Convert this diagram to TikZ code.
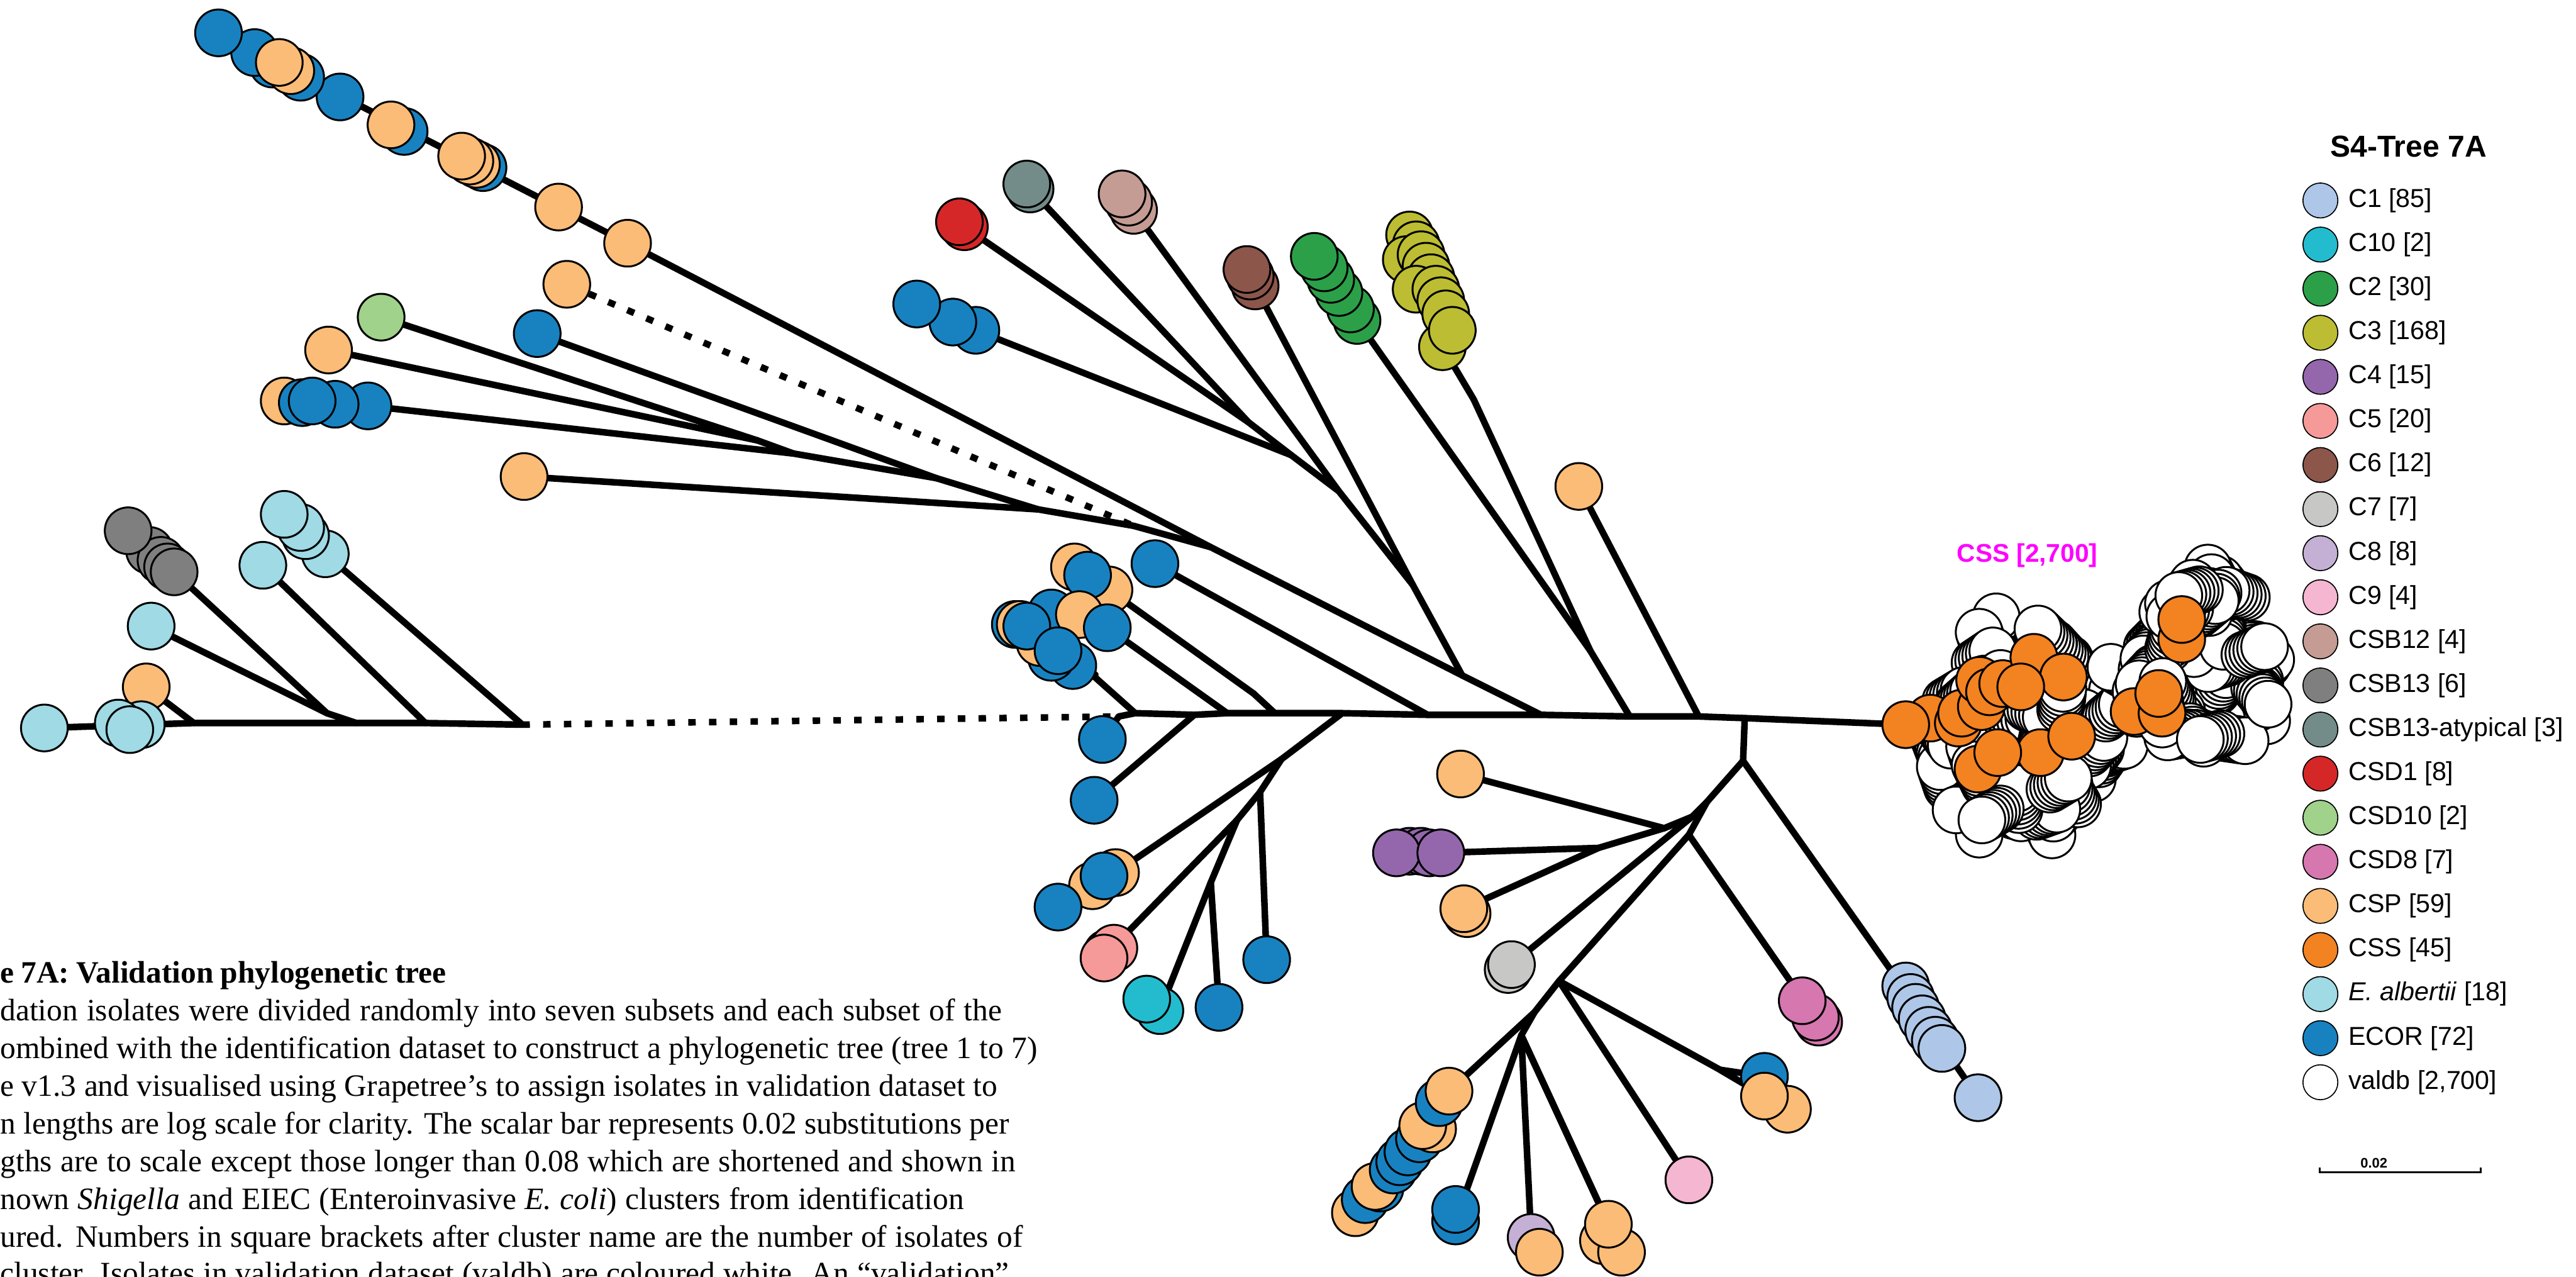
\documentclass[tikz,border=0pt]{standalone}
\usepackage{fontspec}
\setmainfont{Liberation Serif}
\setsansfont{Liberation Sans}
\usetikzlibrary{backgrounds}

% cluster colours
\definecolor{cC1}{HTML}{AEC7E8}
\definecolor{cC10}{HTML}{23BCCF}
\definecolor{cC2}{HTML}{2CA048}
\definecolor{cC3}{HTML}{BCBD32}
\definecolor{cC4}{HTML}{9467AD}
\definecolor{cC5}{HTML}{F59A99}
\definecolor{cC6}{HTML}{8C564B}
\definecolor{cC7}{HTML}{C7C7C5}
\definecolor{cC8}{HTML}{C5B0D5}
\definecolor{cC9}{HTML}{F5B6D1}
\definecolor{cCSBt}{HTML}{C49C94}
\definecolor{cCSBx}{HTML}{7F7F7F}
\definecolor{cCSBa}{HTML}{738C8A}
\definecolor{cCSDa}{HTML}{D62728}
\definecolor{cCSDt}{HTML}{A0D28C}
\definecolor{cCSDe}{HTML}{D677B0}
\definecolor{cCSP}{HTML}{FBBC77}
\definecolor{cCSS}{HTML}{F38221}
\definecolor{cEalb}{HTML}{9FDAE5}
\definecolor{cECOR}{HTML}{1882C1}
\definecolor{cval}{HTML}{FFFFFF}
\definecolor{csslab}{HTML}{FF00FF}

\newcommand{\capline}[2]{\hbox to #1cm{#2}}

\tikzset{
  leaf/.style={circle,draw=black,line width=1.1pt,fill=#1,minimum size=0.95cm,inner sep=0pt},
  br/.style={line width=3.8pt,line cap=round,line join=round},
  dotbr/.style={line width=3.8pt,dash pattern=on 4.3pt off 7.7pt},
  keydot/.style={circle,draw=black,line width=0.6pt,fill=#1,minimum size=0.71cm,inner sep=0pt},
  keytxt/.style={anchor=west,inner sep=0pt,font=\sffamily\fontsize{15}{18}\selectfont},
  captxt/.style={anchor=base west,inner sep=0pt,font=\fontsize{18}{22}\selectfont},
}

\begin{document}
\begin{tikzpicture}[x=0.033418cm,y=-0.033418cm]
\useasboundingbox (0,0) rectangle (1568,777);
\clip (0,0) rectangle (1568,777);

% inner points of the tree
\coordinate (ab1) at (118,440);
\coordinate (ab2a) at (199,434);
\coordinate (ab2) at (217,440);
\coordinate (ab3) at (259,440);
\coordinate (ab4) at (318,441);
\coordinate (m0) at (681,436);
\coordinate (m1a) at (663,409);
\coordinate (m1) at (691,434);
\coordinate (m2) at (727,435);
\coordinate (m3) at (747,434);
\coordinate (m4a) at (763,422);
\coordinate (m4) at (776,434);
\coordinate (m5) at (817,434);
\coordinate (m6) at (869,435);
\coordinate (m7) at (938,435);
\coordinate (m8) at (992,436);
\coordinate (m9) at (1034,436);
\coordinate (m10) at (1062,437);
\coordinate (n1) at (461,268);
\coordinate (n2) at (483,276);
\coordinate (n3) at (570,291);
\coordinate (n4) at (632,310);
\coordinate (n5) at (690,320);
\coordinate (n6) at (737,333);
\coordinate (j1) at (760,257);
\coordinate (j2) at (786,277);
\coordinate (j3) at (815,299);
\coordinate (j4) at (860,356);
\coordinate (j5) at (890,411);
\coordinate (c3j) at (897,243);
\coordinate (c23) at (968,396);
\coordinate (l1) at (780,462);
\coordinate (l2) at (767,482);
\coordinate (l3) at (753,499);
\coordinate (l4) at (737,537);
\coordinate (d1) at (1061,463);
\coordinate (d2) at (1039,488);
\coordinate (d3) at (1030,497);
\coordinate (d4) at (1013,504);
\coordinate (d5) at (973,516);
\coordinate (d6) at (1028,508);
\coordinate (d7) at (949,597);
\coordinate (d7a) at (1047,651);
\coordinate (d8) at (934,616);
\coordinate (d9) at (926,630);
\coordinate (c1j) at (1150,589);

% leaves
\foreach \n/\x/\y/\c in {
  csp1/89/418/cCSP, ea3/86/441/cEalb, ea2/72/440/cEalb, ea4/79/444/cEalb, ea1/27/443/cEalb,
  ea5/92/381/cEalb,
  gb2/91/335/cCSBx, gb3/98/341/cCSBx, gb4/102/345/cCSBx, gb5/106/348/cCSBx, gb1/78/323/cCSBx,
  ea6/160/344/cEalb,
  eb4/198/337/cEalb, eb3/186/326/cEalb, eb2/183/321/cEalb, eb1/173/313/cEalb,
  tc1/382/148/cCSP, tc2/340/126/cCSP, tc3/294/102/cECOR, tc4/290/100/cCSP, tc5/286/98/cCSP,
  tc6/281/95/cCSP, tc7/246/80/cECOR, tc8/238/76/cCSP, tc9/207/59/cECOR, tc10/183/47/cECOR,
  tc12/166/39/cECOR, tc14/155/32/cECOR, tc11/177/43/cCSP, tc13/170/38/cCSP, tc15/133/20/cECOR,
  csd10/232/193/cCSDt, csp2/200/213/cCSP,
  ec4/224/247/cECOR, ec3/204/246/cECOR, csp3/173/244/cCSP, ec1/184/245/cECOR, ec2/190/244/cECOR,
  ec5/327/203/cECOR, csp4/319/290/cCSP, csp5/345/173/cCSP,
  rd2/587/138/cCSDa, rd1/584/135/cCSDa,
  at2/627/115/cCSBa, at1/625/112/cCSBa,
  ef3/594/201/cECOR, ef2/580/196/cECOR, ef1/558/185/cECOR,
  cb3/690/128/cCSBt, cb2/687/123/cCSBt, cb1/683/118/cCSBt,
  c6c/764/174/cC6, c6b/761/168/cC6, c6a/759/164/cC6,
  c2f/826/195/cC2, c2e/822/188/cC2, c2d/815/178/cC2, c2c/810/170/cC2, c2b/806/163/cC2, c2a/800/156/cC2,
  c3a/878/211/cC3, c3b/858/143/cC3, c3c/862/149/cC3, c3d/856/158/cC3, c3e/865/155/cC3,
  c3f/868/162/cC3, c3g/871/169/cC3, c3h/862/176/cC3, c3i/874/176/cC3, c3k/877/183/cC3,
  c3l/880/191/cC3, c3m/884/201/cC3,
  cspr/961/296/cCSP, ecr/703/343/cECOR,
  ma1/654/345/cCSP, ma3/675/359/cCSP, ma2/662/350/cECOR,
  mb1/653/405/cECOR, mb2/640/400/cECOR, mb3/633/391/cCSP, mb4/640/373/cECOR, mb5/657/374/cCSP,
  mb6/618/380/cECOR, mb7/621/380/cCSP, mb8/625/381/cECOR, mb9/644/396/cECOR,
  emc/674/382/cECOR, em0/671/450/cECOR, em2/666/487/cECOR,
  lf1/679/531/cCSP, lf3/665/539/cCSP, lf4/644/552/cECOR, lf2/672/533/cECOR,
  le1/771/584/cECOR,
  c5c/674/580/cC5, c5b/678/577/cC5, c5a/672/583/cC5,
  c10b/706/615/cC10, c10a/698/608/cC10,
  le2/742/613/cECOR,
  dcsp1/889/471/cCSP,
  c4c/858/518/cC4, c4d/865/518/cC4, c4e/870/519/cC4, c4a/850/519/cC4, c4b/877/519/cC4,
  dcsp3/893/556/cCSP, dcsp2/891/553/cCSP,
  c7b/918/590/cC7, c7a/920/587/cC7,
  cd3/1107/622/cCSDe, cd2/1105/619/cCSDe, cd1/1097/609/cCSDe,
  c1a/1160/600/cC1, c1b/1163/607/cC1, c1c/1166/613/cC1, c1d/1170/620/cC1, c1e/1174/627/cC1,
  c1f/1178/633/cC1, c1g/1182/638/cC1, c1h/1204/668/cC1,
  c9/1028/718/cC9,
  dcsp5/1088/675/cCSP, dec1/1074/655/cECOR, dcsp4/1074/667/cCSP,
  ch1/825/738/cCSP, ch2/831/730/cECOR, ch3/840/723/cECOR, ch4/837/722/cCSP, ch5/848/712/cECOR,
  ch6/852/707/cECOR, ch7/857/701/cECOR, ch8/864/693/cECOR, ch9/872/687/cCSP, ch10/866/685/cCSP,
  ch11/876/671/cECOR, ch12/882/664/cCSP,
  de2/886/743/cECOR, de1/886/736/cECOR,
  c8/932/753/cC8, dcsp6/937/762/cCSP,
  dcsp7/976/755/cCSP, dcsp8/987/762/cCSP, dcsp9/979/745/cCSP}
  \node[leaf=\c] (\n) at (\x,\y) {};

% CSS cluster: valdb isolates in white (stacked), CSS in orange
\pgfmathsetseed{17}
\foreach \lobe/\cx/\cy/\rx/\ry/\num in {a/1230/444/56/58/80, b/1336/412/42/44/55, c/1350/366/24/10/12}{
  \foreach \i in {1,...,\num}{
    \pgfmathsetmacro{\ang}{360*rnd}
    \pgfmathsetmacro{\rr}{sqrt(rnd)}
    \pgfmathsetmacro{\px}{\cx+\rx*\rr*cos(\ang)}
    \pgfmathsetmacro{\py}{\cy+\ry*\rr*sin(\ang)}
    \pgfmathsetmacro{\dir}{360*rnd}
    \foreach \k in {0,...,5}
      \node[leaf=cval] (w\lobe\i-\k) at ({\px+2.6*\k*cos(\dir)},{\py+2.6*\k*sin(\dir)}) {};
  }
}
\foreach \n/\x/\y in {css2/1175/437, css3/1192/440, css4/1194/434, css5/1206/430, css6/1205/414,
  css7/1211/421, css8/1219/416, css9/1238/400, css10/1256/412, css11/1242/458, css12/1261/448,
  css13/1204/468, css14/1328/389, css15/1328/377, css16/1299/433, css17/1316/434, css18/1314/422,
  css19/1230/418, css20/1216/458, css1/1160/441}
  \node[leaf=cCSS] (\n) at (\x,\y) {};

\node[font=\sffamily\bfseries\fontsize{14.8}{17}\selectfont,text=csslab,inner sep=0pt] (csslabel) at (1234,338) {CSS [2,700]};

% branches
\begin{pgfonlayer}{background}
\draw[br] (ea1) -- (ab1) -- (ab2) -- (ab3) -- (ab4);
\draw[dotbr] (ab4) -- (m0);
\draw[br] (m0) -- (m1) -- (m2) -- (m3) -- (m4) -- (m5) -- (m6) -- (m7) -- (m8) -- (m9) -- (m10) -- (css1);
\foreach \a/\b in {
  csp1/ab1, ea5/ab2a, gb5/ab2a, ab2a/ab2, ea6/ab3, eb4/ab4,
  em0/m0, mb1/m1a, m1a/m1, em2/m2, emc/m3, ma3/m4a, m4a/m4, ecr/m6,
  j5/m7, n6/j5, j4/j5, j3/j4, c6c/j4, j2/j3, cb3/j3, j1/j2, ef3/j2, rd2/j1, at2/j1,
  c23/m8, c2f/c23, c3j/c23, c3a/c3j, cspr/m9,
  n5/n6, tc1/n6, n4/n5, n3/n4, csp4/n4, n2/n3, ec5/n3, n1/n2, ec4/n2, csd10/n1, csp2/n1,
  m5/l1, l1/l2, l2/l3, l3/l4, l1/lf1, l2/le1, l3/c5c, l4/c10b, l4/le2,
  m10/d1, d1/d2, d2/d3, d3/d4, d4/d5, d4/dcsp1, d5/c4b, d5/dcsp2, d3/c7a,
  d2/d6, d6/cd3, d6/d7, d7/c9, d7/d7a, d7a/dec1, d7a/dcsp4, d7a/dcsp5,
  d7/d8, d8/ch12, d8/d9, d9/de2, d9/c8, d9/dcsp9, d9/dcsp8,
  d1/c1j, c1j/c1a, c1j/c1h}
  \draw[br] (\a) -- (\b);
\draw[br] (tc15) -- (tc1);
\draw[br] (ch12) -- (ch1);
\draw[dotbr] (csp5) -- (n5);
\end{pgfonlayer}

% legend
\node[font=\sffamily\bfseries\fontsize{17.5}{20}\selectfont,inner sep=0pt] (keytitle) at (1466,89) {S4-Tree 7A};
\foreach \c/\t [count=\i] in {cC1/{C1 [85]}, cC10/{C10 [2]}, cC2/{C2 [30]}, cC3/{C3 [168]},
  cC4/{C4 [15]}, cC5/{C5 [20]}, cC6/{C6 [12]}, cC7/{C7 [7]}, cC8/{C8 [8]}, cC9/{C9 [4]},
  cCSBt/{CSB12 [4]}, cCSBx/{CSB13 [6]}, cCSBa/{CSB13-atypical [3]}, cCSDa/{CSD1 [8]},
  cCSDt/{CSD10 [2]}, cCSDe/{CSD8 [7]}, cCSP/{CSP [59]}, cCSS/{CSS [45]},
  cEalb/{\textit{E. albertii} [18]}, cECOR/{ECOR [72]}, cval/{valdb [2,700]}}{
  \node[keydot=\c] (kd\i) at (1412.4,{122+26.83*(\i-1)}) {};
  \node[keytxt] (kt\i) at (1429.3,{122+26.83*(\i-1)}) {\t};
}

% scale bar
\coordinate (sb1) at (1412,713.5);
\coordinate (sb2) at (1510,713.5);
\draw[line width=1pt] ([yshift=3pt]sb1) -- (sb1) -- (sb2) -- ([yshift=3pt]sb2);
\node[font=\sffamily\bfseries\fontsize{8}{9}\selectfont,anchor=south,inner sep=1pt] (sbl) at (1445,712) {0.02};

% caption (cut at the left edge)
\node[captxt,font=\bfseries\fontsize{18}{22}\selectfont] (cp1) at (0,598) {\capline{9.07}{e 7A: Validation phylogenetic tree}};
\node[captxt] (cp2) at (0,621) {\capline{20.37}{dation isolates were divided randomly into seven subsets and each subset of the}};
\node[captxt] (cp3) at (0,644) {\capline{21.09}{ombined with the identification dataset to construct a phylogenetic tree (tree 1 to 7)}};
\node[captxt] (cp4) at (0,667) {\capline{20.28}{e v1.3 and visualised using Grapetree’s to assign isolates in validation dataset to}};
\node[captxt] (cp5) at (0,690) {\capline{20.52}{n lengths are log scale for clarity. The scalar bar represents 0.02 substitutions per}};
\node[captxt] (cp6) at (0,713) {\capline{20.65}{gths are to scale except those longer than 0.08 which are shortened and shown in}};
\node[captxt] (cp7) at (0,736) {\capline{19.60}{nown \textit{Shigella} and EIEC (Enteroinvasive \textit{E. coli}) clusters from identification}};
\node[captxt] (cp8) at (0,759) {\capline{20.80}{ured. Numbers in square brackets after cluster name are the number of isolates of}};
\node[captxt] (cp9) at (0,781) {\capline{20.52}{cluster. Isolates in validation dataset (valdb) are coloured white. An “validation”}};
\end{tikzpicture}
\end{document}
